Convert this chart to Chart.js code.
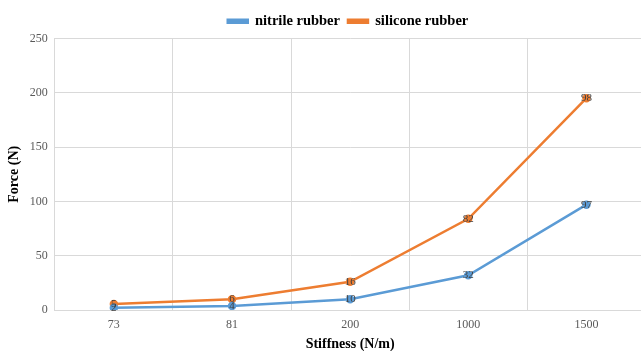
<!DOCTYPE html>
<html>
<head>
<meta charset="utf-8">
<script src="https://cdn.jsdelivr.net/npm/chart.js@4"></script>
<style>
  html, body { margin: 0; padding: 0; background: #fff; overflow: hidden; }
  #wrap { width: 652px; height: 351px; position: relative; }
</style>
</head>
<body>
<div id="wrap"><canvas id="myChart"></canvas></div>
<script>
var stiffness = ['73', '81', '200', '1000', '1500'];
var nitrile = [2, 3.7, 10, 32, 97];
var silicone = [5.5, 10, 26, 84, 195];
var nitrileLabels = ['2', '4', '10', '32', '97'];
var siliconeLabels = ['5', '6', '16', '82', '98'];
var yTicks = [0, 50, 100, 150, 200, 250];

var serif = "'Liberation Serif', 'DejaVu Serif', serif";

// draws the value text on top of each point
var pointLabels = {
    id: 'pointLabels',
    afterDatasetsDraw: function (chart) {
        var c = chart.ctx;
        c.save();
        c.font = '11px ' + serif;
        c.fillStyle = '#404040';
        c.textAlign = 'center';
        c.textBaseline = 'middle';
        chart.data.datasets.forEach(function (ds, i) {
            chart.getDatasetMeta(i).data.forEach(function (pt, j) {
                c.fillText(ds.pointText[j], pt.x, pt.y);
            });
        });
        c.restore();
    }
};

// the legend sits a bit right of centre in the original
var legendShift = {
    id: 'legendShift',
    afterLayout: function (chart) {
        chart.legend.left += 22;
        chart.legend.right += 22;
    }
};

var ctx = document.getElementById('myChart').getContext('2d');
var myChart = new Chart(ctx, {
    type: 'line',
    data: {
        labels: stiffness,
        datasets: [{
            label: 'nitrile rubber',
            data: nitrile,
            pointText: nitrileLabels,
            borderColor: '#5B9BD5',
            backgroundColor: '#5B9BD5',
            borderWidth: 2.5,
            pointRadius: 3,
            tension: 0
        },
        {
            label: 'silicone rubber',
            data: silicone,
            pointText: siliconeLabels,
            borderColor: '#ED7D31',
            backgroundColor: '#ED7D31',
            borderWidth: 2.5,
            pointRadius: 3,
            tension: 0
        }]
    },
    options: {
        responsive: true,
        maintainAspectRatio: false,
        animation: false,
        layout: { padding: { left: 0, right: 0, top: 6, bottom: 0 } },
        plugins: {
            legend: {
                position: 'top',
                labels: {
                    boxWidth: 20,
                    boxHeight: 3,
                    padding: 8,
                    color: '#000',
                    font: { family: serif, size: 14.5, weight: 'bold' }
                }
            },
            tooltip: { enabled: false }
        },
        scales: {
            x: {
                offset: true,
                grid: { offset: true, color: '#d9d9d9', drawTicks: false },
                border: { color: '#d9d9d9' },
                ticks: { color: '#595959', padding: 9, font: { family: serif, size: 12, lineHeight: 1 } },
                title: {
                    display: true,
                    text: 'Stiffness (N/m)',
                    color: '#000',
                    padding: { top: -3, bottom: 0 },
                    font: { family: serif, size: 14, weight: 'bold', lineHeight: 1 }
                }
            },
            y: {
                min: 0,
                max: 250,
                afterBuildTicks: function (axis) {
                    axis.ticks = yTicks.map(function (v) { return { value: v }; });
                },
                grid: { color: '#d9d9d9', drawTicks: false },
                border: { color: '#d9d9d9' },
                ticks: { color: '#595959', padding: 7, font: { family: serif, size: 12 } },
                title: {
                    display: true,
                    text: 'Force (N)',
                    color: '#000',
                    padding: { top: 6, bottom: 0 },
                    font: { family: serif, size: 14, weight: 'bold' }
                }
            }
        }
    },
    plugins: [pointLabels, legendShift]
});
</script>
</body>
</html>
